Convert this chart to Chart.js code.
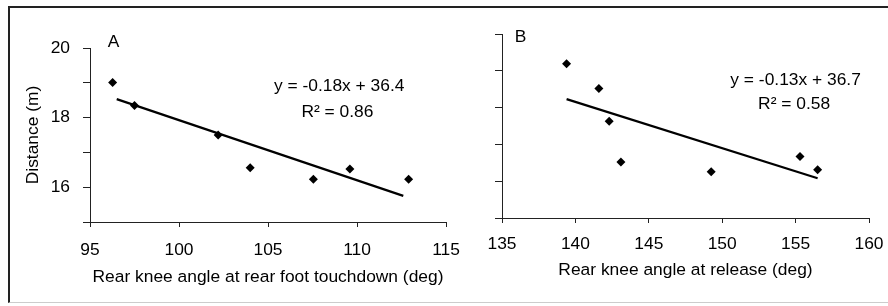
<!DOCTYPE html>
<html lang="en">
<head>
    <meta charset="UTF-8">
    <title>Distance vs rear knee angle</title>
    <script src="https://cdn.jsdelivr.net/npm/chart.js"></script>
    <style>
        body {
            margin: 0;
            background: #fff;
            overflow: hidden;
            font-family: "Liberation Sans", Arial, sans-serif;
        }
        .frame {
            position: absolute;
            left: 8px;
            top: 6px;
            width: 880px;
            height: 297px;
            border-left: 2px solid #222;
            border-top: 2px solid #222;
            border-bottom: 1px solid #ccc;
            box-sizing: border-box;
        }
        canvas {
            position: absolute;
        }
        #chartA { left: 10px; top: 8px; }
        #chartB { left: 455px; top: 8px; }
    </style>
</head>
<body>
    <div class="frame"></div>
    <canvas id="chartA" width="454" height="290"></canvas>
    <canvas id="chartB" width="433" height="290"></canvas>

    <script>
        // Panel A: knee angle at rear foot touchdown
        const kneeTouchdown = [96.27, 97.5, 102.2, 104.0, 107.55, 109.6, 112.9];
        const distanceA = [19.01, 18.35, 17.5, 16.56, 16.23, 16.52, 16.23];
        const fitAx = [96.5, 112.6];
        const fitAy = [18.53, 15.75];

        // Panel B: knee angle at release
        const kneeRelease = [139.4, 141.6, 142.3, 143.1, 149.25, 155.3, 156.5];
        const distanceB = [19.19, 18.52, 17.63, 16.52, 16.26, 16.67, 16.31];
        const fitBx = [139.4, 156.5];
        const fitBy = [18.23, 16.08];

        // axis ticks
        const yLabelsA = [16, 18, 20];
        const xRangeA = [95, 115];
        const xRangeB = [135, 160];
        const yRange = [15, 20];

        const FONT = '"Liberation Sans", Arial, sans-serif';
        const SIZE = 17.4;
        const INK = '#000';

        // text drawn inside the plot (panel letter, equation, R²)
        const panelText = {
            id: 'panelText',
            afterDatasetsDraw(chart, args, opts) {
                const { ctx, scales: { x, y } } = chart;
                ctx.save();
                ctx.font = SIZE + 'px ' + FONT;
                ctx.fillStyle = INK;
                ctx.textBaseline = 'middle';
                opts.items.forEach(it => {
                    ctx.textAlign = it.align || 'center';
                    ctx.fillText(it.text, x.getPixelForValue(it.x), y.getPixelForValue(it.y));
                });
                ctx.restore();
            }
        };

        function points(xs, ys) {
            return xs.map((v, i) => ({ x: v, y: ys[i] }));
        }

        function makeChart(id, cfg) {
            return new Chart(document.getElementById(id), {
                type: 'scatter',
                data: {
                    datasets: [{
                        data: points(cfg.xs, cfg.ys),
                        pointStyle: 'rectRot',
                        pointRadius: 4.5,
                        backgroundColor: INK,
                        borderColor: INK,
                        borderWidth: 0
                    }, {
                        type: 'line',
                        data: points(cfg.fx, cfg.fy),
                        borderColor: INK,
                        borderWidth: 2.2,
                        pointRadius: 0,
                        fill: false
                    }]
                },
                options: {
                    responsive: false,
                    animation: false,
                    devicePixelRatio: 1,
                    layout: { padding: cfg.padding },
                    plugins: {
                        legend: { display: false },
                        tooltip: { enabled: false },
                        panelText: { items: cfg.texts }
                    },
                    scales: {
                        x: {
                            type: 'linear',
                            min: cfg.xRange[0],
                            max: cfg.xRange[1],
                            afterFit: s => {
                                s.height = cfg.xHeight;
                                s.paddingLeft = 0;
                                s.paddingRight = 0;
                            },
                            ticks: {
                                stepSize: 5,
                                color: INK,
                                padding: cfg.xTickPad,
                                font: { family: FONT, size: SIZE }
                            },
                            grid: { drawOnChartArea: false, tickLength: 5, color: '#222' },
                            border: { color: '#222', width: 1 },
                            title: {
                                display: true,
                                text: cfg.xTitle,
                                color: INK,
                                font: { family: FONT, size: SIZE },
                                padding: { top: 0, bottom: cfg.xTitlePad }
                            }
                        },
                        y: {
                            min: yRange[0],
                            max: yRange[1],
                            afterFit: s => {
                                s.width = cfg.yWidth;
                                s.paddingTop = 0;
                                s.paddingBottom = 0;
                            },
                            ticks: {
                                stepSize: 1,
                                color: INK,
                                padding: 13,
                                font: { family: FONT, size: SIZE },
                                callback: v => (cfg.yLabels.includes(v) ? String(v) : '')
                            },
                            grid: { drawOnChartArea: false, tickLength: 7, color: '#222' },
                            border: { color: '#222', width: 1 },
                            title: {
                                display: !!cfg.yTitle,
                                text: cfg.yTitle,
                                color: INK,
                                font: { family: FONT, size: SIZE },
                                padding: { top: 13, bottom: 0 }
                            }
                        }
                    }
                },
                plugins: [panelText]
            });
        }

        makeChart('chartA', {
            xs: kneeTouchdown, ys: distanceA, fx: fitAx, fy: fitAy,
            xRange: xRangeA,
            yLabels: yLabelsA,
            xTitle: 'Rear knee angle at rear foot touchdown (deg)',
            yTitle: 'Distance (m)',
            padding: { top: 40, right: 18, left: 0, bottom: 0 },
            yWidth: 80, xHeight: 76, xTickPad: 13, xTitlePad: 10,
            texts: [
                { text: 'A', x: 96.0, y: 20.17, align: 'left' },
                { text: 'y = -0.18x + 36.4', x: 109.0, y: 18.91 },
                { text: 'R\u00B2 = 0.86', x: 108.9, y: 18.16 }
            ]
        });

        makeChart('chartB', {
            xs: kneeRelease, ys: distanceB, fx: fitBx, fy: fitBy,
            xRange: xRangeB,
            yLabels: [],
            xTitle: 'Rear knee angle at release (deg)',
            yTitle: '',
            padding: { top: 26, right: 19, left: 0, bottom: 0 },
            yWidth: 47, xHeight: 80, xTickPad: 11, xTitlePad: 17,
            texts: [
                { text: 'B', x: 135.87, y: 19.92, align: 'left' },
                { text: 'y = -0.13x + 36.7', x: 155.0, y: 18.75 },
                { text: 'R\u00B2 = 0.58', x: 154.9, y: 18.10 }
            ]
        });
    </script>
</body>
</html>
